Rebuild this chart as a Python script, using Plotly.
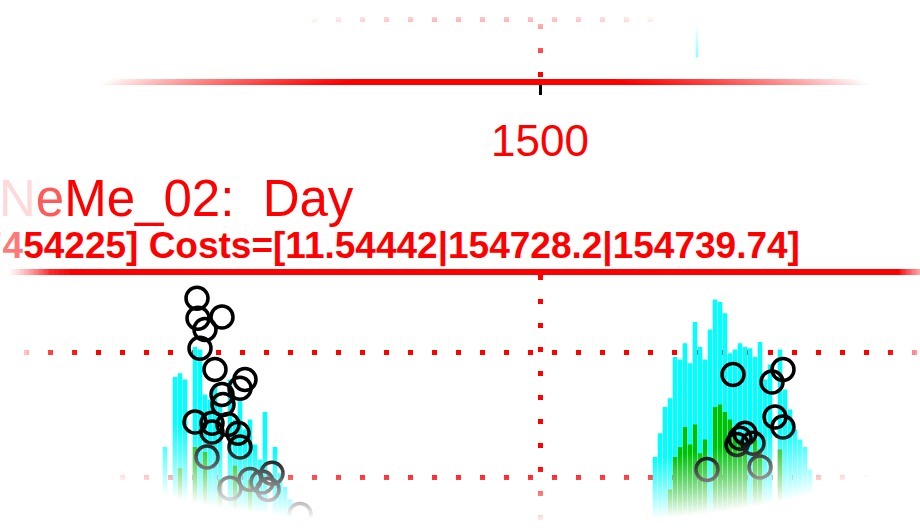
import numpy as np
import plotly.graph_objects as go

# ---------------- data ----------------
tick_vals = [1500]
tick_text = ["1500"]

cyan_days = [1425, 1427, 1428, 1429, 1431, 1432, 1433, 1434, 1435, 1436, 1438, 1439, 1440,
             1441, 1442, 1443, 1444, 1445, 1447, 1448, 1449, 1450,
             1523, 1524, 1525, 1526, 1527, 1528, 1529, 1530, 1531, 1532, 1533, 1534, 1535,
             1536, 1537, 1538, 1539, 1540, 1541, 1542, 1543, 1544, 1545, 1546, 1548, 1549,
             1550, 1551, 1552, 1553, 1554]
cyan_vals = [12.4, 18.0, 18.3, 17.8, 20.4, 20.2, 16.6, 16.2, 17.4, 15.8, 17.8, 14.6, 16.2,
             13.8, 14.6, 12.6, 11.4, 15.2, 12.4, 10.3, 9.2, 8.2,
             11.6, 13.5, 15.6, 16.3, 19.6, 19.4, 20.7, 19.1, 22.4, 20.4, 19.4, 21.8, 24.2,
             24.0, 23.1, 19.9, 20.2, 20.7, 20.4, 20.3, 19.6, 20.8, 17.8, 19.0, 20.2, 17.0,
             15.4, 13.8, 13.0, 12.4, 10.6]

green_days = [1428, 1431, 1433, 1436, 1439, 1442,
              1526, 1527, 1528, 1529, 1530, 1531, 1532, 1533, 1535, 1536, 1537, 1538,
              1539, 1540, 1541, 1543, 1544, 1548]
green_vals = [10.7, 12.4, 12.0, 9.8, 10.9, 9.8,
              9.0, 11.6, 12.4, 14.0, 12.6, 14.2, 11.9, 13.0, 15.6, 15.8, 15.2, 14.6,
              13.5, 13.0, 12.6, 13.0, 12.2, 12.2]

circle_days = [1431.4, 1436.4, 1431.6, 1433.0, 1432.0, 1435.0, 1441.0, 1440.0, 1436.4, 1436.6,
               1431.0, 1434.4, 1434.4, 1437.6, 1439.6, 1440.0, 1433.4, 1446.4, 1442.0, 1444.4,
               1445.6, 1438.0, 1452.0,
               1538.6, 1546.4, 1548.6, 1547.0, 1548.6, 1541.0, 1540.0, 1542.6, 1539.4, 1544.0,
               1533.4]
circle_vals = [24.3, 22.8, 22.7, 21.8, 20.3, 18.6, 17.8, 17.1, 16.6, 15.8,
               14.4, 14.3, 13.6, 14.2, 13.5, 12.4, 11.6, 10.3, 9.8, 9.6,
               9.0, 9.1, 7.0,
               18.2, 17.6, 18.6, 14.8, 14.0, 13.5, 13.1, 12.7, 12.6, 10.8,
               10.6]

upper_days = [1531.4]
upper_base = [11.0]
upper_vals = [17.4]

title_line = "NeMe_02:\u00a0\u00a0Day"
costs_line = "7454225] Costs=[11.54442|154728.2|154739.74]"

RED = "#ff0000"
W, H = 920, 528
FONT = "Liberation Sans, Arial, sans-serif"

fig = go.Figure()
fig.add_trace(go.Bar(x=cyan_days, y=cyan_vals, marker=dict(color="#00ffff", line_width=0),
                     width=0.9, xaxis="x", yaxis="y"))
fig.add_trace(go.Bar(x=green_days, y=green_vals, marker=dict(color="#00c000", line_width=0),
                     width=0.9, xaxis="x", yaxis="y"))
fig.add_trace(go.Scatter(x=circle_days, y=circle_vals, mode="markers",
                         marker=dict(symbol="circle-open", size=22, color="black",
                                     line=dict(width=3.5, color="black")),
                         xaxis="x", yaxis="y"))
fig.add_trace(go.Bar(x=upper_days, y=upper_vals, base=upper_base,
                     marker=dict(color="#00ffff", line_width=0), width=0.5,
                     xaxis="x2", yaxis="y2"))

grid = dict(showgrid=True, gridcolor=RED, gridwidth=5, griddash="5px,19px", zeroline=False)
xr = [1392, 1576]
y_top = 275  # pixel row of the lower panel's top edge (line drawn just above it)
fig.update_layout(
    width=W, height=H, margin=dict(l=0, r=0, t=0, b=0),
    paper_bgcolor="white", plot_bgcolor="white", showlegend=False,
    barmode="overlay",
    font=dict(family=FONT, color=RED),
    xaxis=dict(domain=[0, 1], range=xr, anchor="y", side="top",
               showline=True, linecolor=RED, linewidth=6,
               tickmode="array", tickvals=tick_vals, showticklabels=False, ticks="", **grid),
    yaxis=dict(domain=[0, 1 - y_top / H],
               range=[10 - (H - 477) / 12.5, 20 + (352 - y_top) / 12.5],
               tickmode="array", tickvals=[10, 20], showticklabels=False, ticks="",
               showline=False, **grid),
    xaxis2=dict(domain=[0, 1], range=xr, anchor="y2", matches="x", side="bottom",
                showline=True, linecolor=RED, linewidth=6,
                tickmode="array", tickvals=tick_vals, ticktext=tick_text,
                ticks="outside", ticklen=10, tickwidth=3, tickcolor="black",
                tickfont=dict(size=44, color=RED, family=FONT),
                ticklabelstandoff=8, **grid),
    yaxis2=dict(domain=[1 - 79 / H, 1], range=[0, 40], tickmode="array", tickvals=[30],
                showticklabels=False, ticks="", showline=False, **grid),
)

# ---- vignette (white fade toward edges) ----
outer = "M -0.5,-0.5 L 1.5,-0.5 L 1.5,1.5 L -0.5,1.5 Z "
cx, cy, a = 485, 281, 470
b_top, p_top = 240, 2.0
b_bot, p_bot = 210, 2.5
N = 26
r0, r1 = 0.88, 1.16
t = np.linspace(0, 2 * np.pi, 241)[:-1]
ct, st = np.cos(t), np.sin(t)
pp = np.where(st < 0, p_top, p_bot)
bb = np.where(st < 0, b_top, b_bot)
ex = np.sign(ct) * np.abs(ct) ** (2 / pp)
ey = np.sign(st) * np.abs(st) ** (2 / pp)
for i in range(N):
    r = r0 + (i + 0.5) * (r1 - r0) / N
    px_ = (cx + r * a * ex) / W
    py_ = 1 - (cy + r * bb * ey) / H
    hole = "M " + " L ".join(f"{u:.4f},{v:.4f}" for u, v in zip(px_, py_)) + " Z"
    fig.add_shape(type="path", path=outer + hole, xref="paper", yref="paper",
                  fillcolor="white", opacity=1.0 / (N - i), line_width=0,
                  layer="above", fillrule="evenodd")

# side strips: left fade 50px -> 8px, right fade 898px -> 935px
M = 12
for k in range(M):
    e_left = 50 - (k + 0.5) * 42 / M
    e_right = 898 + (k + 0.5) * 37 / M
    for x0, x1 in ((-20, e_left), (e_right, W + 20)):
        fig.add_shape(type="rect", xref="paper", yref="paper",
                      x0=x0 / W, x1=x1 / W, y0=-0.1, y1=1.1,
                      fillcolor="white", opacity=1.0 / (M - k), line_width=0, layer="above")

# ---- header texts ----
t_html = ('<span style="color:rgba(255,0,0,0.15)">' + title_line[0] + '</span>'
          '<span style="color:rgba(255,0,0,0.65)">' + title_line[1] + '</span>' + title_line[2:])
fig.add_annotation(text=t_html, xref="paper", yref="paper", x=356 / W, y=1 - 198 / H,
                   xanchor="right", yanchor="middle", showarrow=False,
                   font=dict(size=51, color=RED, family=FONT))
c_html = ('<span style="color:rgba(255,0,0,0.15)">' + costs_line[0] + '</span>'
          '<span style="color:rgba(255,0,0,0.55)">' + costs_line[1] + '</span>' + costs_line[2:])
fig.add_annotation(text=c_html, xref="paper", yref="paper", x=802 / W, y=1 - 246 / H,
                   xanchor="right", yanchor="middle", showarrow=False,
                   font=dict(size=37, color=RED, weight="bold", family=FONT))

fig.write_html("out.html", config={"displayModeBar": False},
               post_script="document.body.style.margin='0px';")
